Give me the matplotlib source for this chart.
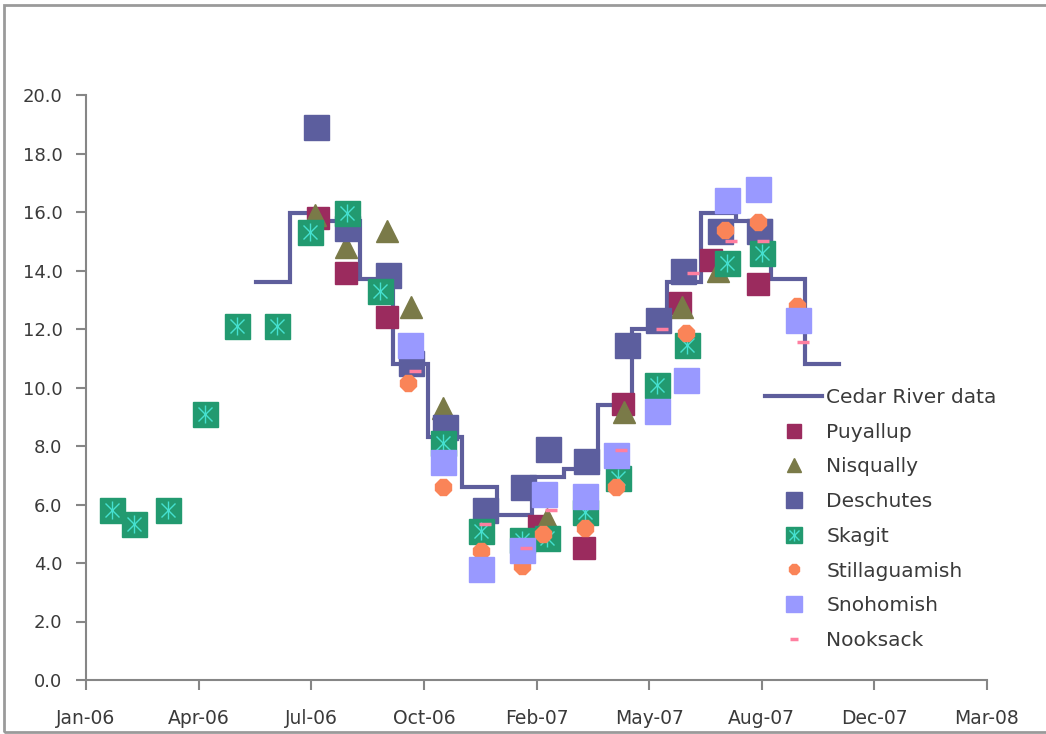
import matplotlib
matplotlib.use("Agg")
import matplotlib.pyplot as plt
import matplotlib.dates as mdates
from matplotlib.patches import Rectangle
from matplotlib.legend_handler import HandlerTuple
import numpy as np
import datetime as dt

# ---------------- data ----------------
cedar_dates = ["2006-06-01", "2006-07-01", "2006-08-01", "2006-09-01", "2006-10-01",
               "2006-11-01", "2006-12-01", "2007-01-01", "2007-02-01", "2007-03-01",
               "2007-04-01", "2007-05-01", "2007-06-01", "2007-07-01", "2007-08-01",
               "2007-09-01", "2007-10-01", "2007-11-01"]
cedar_vals = [13.6, 15.95, 15.7, 13.7, 10.8, 8.3, 6.6, 5.65, 6.95, 7.2,
              9.4, 12.0, 13.6, 15.95, 15.7, 13.7, 10.8, 10.8]

puyallup_dates = ["2006-07-26", "2006-08-20", "2006-09-25", "2007-02-07", "2007-03-19",
                  "2007-04-23", "2007-06-12", "2007-07-10", "2007-08-21"]
puyallup_vals = [15.8, 13.9, 12.4, 5.25, 4.5, 9.45, 12.9, 14.35, 13.55]

nisqually_dates = ["2006-07-23", "2006-08-20", "2006-09-25", "2006-10-17", "2006-11-14",
                   "2007-02-14", "2007-04-24", "2007-06-14", "2007-07-16"]
nisqually_vals = [15.9, 14.8, 15.35, 12.75, 9.3, 5.5, 9.15, 12.75, 14.0]

deschutes_dates = ["2006-07-24", "2006-08-21", "2006-09-26", "2006-10-17", "2006-11-16",
                   "2006-12-21", "2007-01-24", "2007-02-15", "2007-03-21", "2007-04-26",
                   "2007-05-24", "2007-06-15", "2007-07-18", "2007-08-22"]
deschutes_vals = [18.9, 15.45, 13.85, 10.85, 8.65, 5.8, 6.6, 7.9, 7.5, 11.45,
                  12.3, 14.0, 15.35, 15.35]

skagit_dates = ["2006-01-24", "2006-02-13", "2006-03-15", "2006-04-17", "2006-05-15",
                "2006-06-20", "2006-07-19", "2006-08-21", "2006-09-19", "2006-11-14",
                "2006-12-18", "2007-01-23", "2007-02-14", "2007-03-20", "2007-04-18",
                "2007-05-23", "2007-06-19", "2007-07-24", "2007-08-24"]
skagit_vals = [5.8, 5.35, 5.8, 9.1, 12.1, 12.1, 15.3, 15.95, 13.3, 8.1,
               5.1, 4.8, 4.85, 5.75, 6.9, 10.1, 11.45, 14.25, 14.6]

stilla_dates = ["2006-10-14", "2006-11-14", "2006-12-18", "2007-01-23", "2007-02-11",
                "2007-03-20", "2007-04-17", "2007-06-18", "2007-07-22", "2007-08-21",
                "2007-09-24"]
stilla_vals = [10.15, 6.6, 4.4, 3.9, 5.0, 5.2, 6.6, 11.85, 15.4, 15.65, 12.8]

snoho_dates = ["2006-10-16", "2006-11-14", "2006-12-18", "2007-01-23", "2007-02-12",
               "2007-03-20", "2007-04-17", "2007-05-23", "2007-06-18", "2007-07-24",
               "2007-08-21", "2007-09-25"]
snoho_vals = [11.45, 7.45, 3.8, 4.45, 6.35, 6.3, 7.7, 9.2, 10.25, 16.4, 16.8, 12.3]

nook_dates = ["2006-10-20", "2006-12-21", "2007-01-27", "2007-02-18", "2007-04-21",
              "2007-05-27", "2007-06-24", "2007-07-28", "2007-08-25", "2007-09-30"]
nook_vals = [10.55, 5.35, 4.5, 5.8, 7.85, 12.0, 13.9, 15.0, 15.0, 11.55]

series_names = ["Cedar River data", "Puyallup", "Nisqually", "Deschutes", "Skagit",
                "Stillaguamish", "Snohomish", "Nooksack"]
y_ticks = [0, 2, 4, 6, 8, 10, 12, 14, 16, 18, 20]
x_start = "2006-01-01"
x_step_days = 100
x_n_steps = 8


def to_dates(lst):
    return [dt.datetime.strptime(s, "%Y-%m-%d") for s in lst]


# ---------------- figure ----------------
W, H = 1046, 734
fig = plt.figure(figsize=(W / 100, H / 100), dpi=100)
fig.patch.set_facecolor("white")

ax = fig.add_axes([86 / W, 1 - 680 / H, (987 - 86) / W, (680 - 95) / H])
ax.set_facecolor("white")

axis_col = "#868686"
txt_col = "#3a3a3a"

h_cedar, = ax.plot(to_dates(cedar_dates), cedar_vals, drawstyle="steps-post",
                   color="#5E5E9C", lw=3.0, solid_joinstyle="miter", zorder=2)
h_puy, = ax.plot(to_dates(puyallup_dates), puyallup_vals, ls="none", marker="s",
                 ms=16, color="#9B2B5E", mec="#9B2B5E", zorder=3)
h_nis, = ax.plot(to_dates(nisqually_dates), nisqually_vals, ls="none", marker="^",
                 ms=16, color="#7A7A48", mec="#7A7A48", zorder=4)
h_des, = ax.plot(to_dates(deschutes_dates), deschutes_vals, ls="none", marker="s",
                 ms=18, color="#5C5E9E", mec="#5C5E9E", zorder=5)
h_ska, = ax.plot(to_dates(skagit_dates), skagit_vals, ls="none", marker="s",
                 ms=18, color="#229A70", mec="#229A70", zorder=6)
h_ska2, = ax.plot(to_dates(skagit_dates), skagit_vals, ls="none", marker="x",
                  ms=10, color="#45E0D0", mew=1.0, zorder=6.1)
h_ska3, = ax.plot(to_dates(skagit_dates), skagit_vals, ls="none", marker="|",
                  ms=13, color="#45E0D0", mew=1.0, zorder=6.1)
h_sti, = ax.plot(to_dates(stilla_dates), stilla_vals, ls="none", marker="8",
                 ms=13, color="#FA8458", mec="#FA8458", zorder=7)
h_sno, = ax.plot(to_dates(snoho_dates), snoho_vals, ls="none", marker="s",
                 ms=18, color="#9999FF", mec="#9999FF", zorder=8)
h_noo, = ax.plot(to_dates(nook_dates), nook_vals, ls="none", marker="_",
                 ms=9, mew=2.5, color="#FF7FA0", zorder=9)

# axes limits / ticks
x0 = mdates.date2num(dt.datetime.strptime(x_start, "%Y-%m-%d"))
xt = [x0 + i * x_step_days for i in range(x_n_steps + 1)]
ax.set_xlim(xt[0], xt[-1])
ax.set_xticks(xt)
ax.xaxis.set_major_formatter(mdates.DateFormatter("%b-%y"))
ax.set_ylim(0, 20)
ax.set_yticks(y_ticks)
ax.yaxis.set_major_formatter(matplotlib.ticker.FormatStrFormatter("%.1f"))

for s in ["top", "right"]:
    ax.spines[s].set_visible(False)
for s in ["left", "bottom"]:
    ax.spines[s].set_color(axis_col)
    ax.spines[s].set_linewidth(1.5)
ax.tick_params(axis="both", direction="out", color=axis_col, width=1.5, length=7,
               labelcolor=txt_col, labelsize=13)
ax.tick_params(axis="y", pad=10)
ax.tick_params(axis="x", pad=14, labelsize=13.5)

# legend
handles = [h_cedar, h_puy, h_nis, h_des, (h_ska, h_ska2, h_ska3), h_sti, h_sno, h_noo]
leg = fig.legend(handles, series_names, loc="upper left",
                 bbox_to_anchor=(765 / W, 1 - 388 / H), frameon=False,
                 fontsize=14.5, labelcolor=txt_col, handlelength=2.85,
                 handletextpad=0.2, labelspacing=0.78, borderpad=0, borderaxespad=0,
                 markerscale=0.65, handler_map={tuple: HandlerTuple(ndivide=1)})

# outer border
fig.patches.append(Rectangle((4 / W, 1 - 732 / H), (W + 10 - 4) / W, (732 - 5) / H,
                             transform=fig.transFigure, fill=False,
                             edgecolor="#9a9a9a", lw=2.0))

fig.savefig("out.png", dpi=100, facecolor="white")
